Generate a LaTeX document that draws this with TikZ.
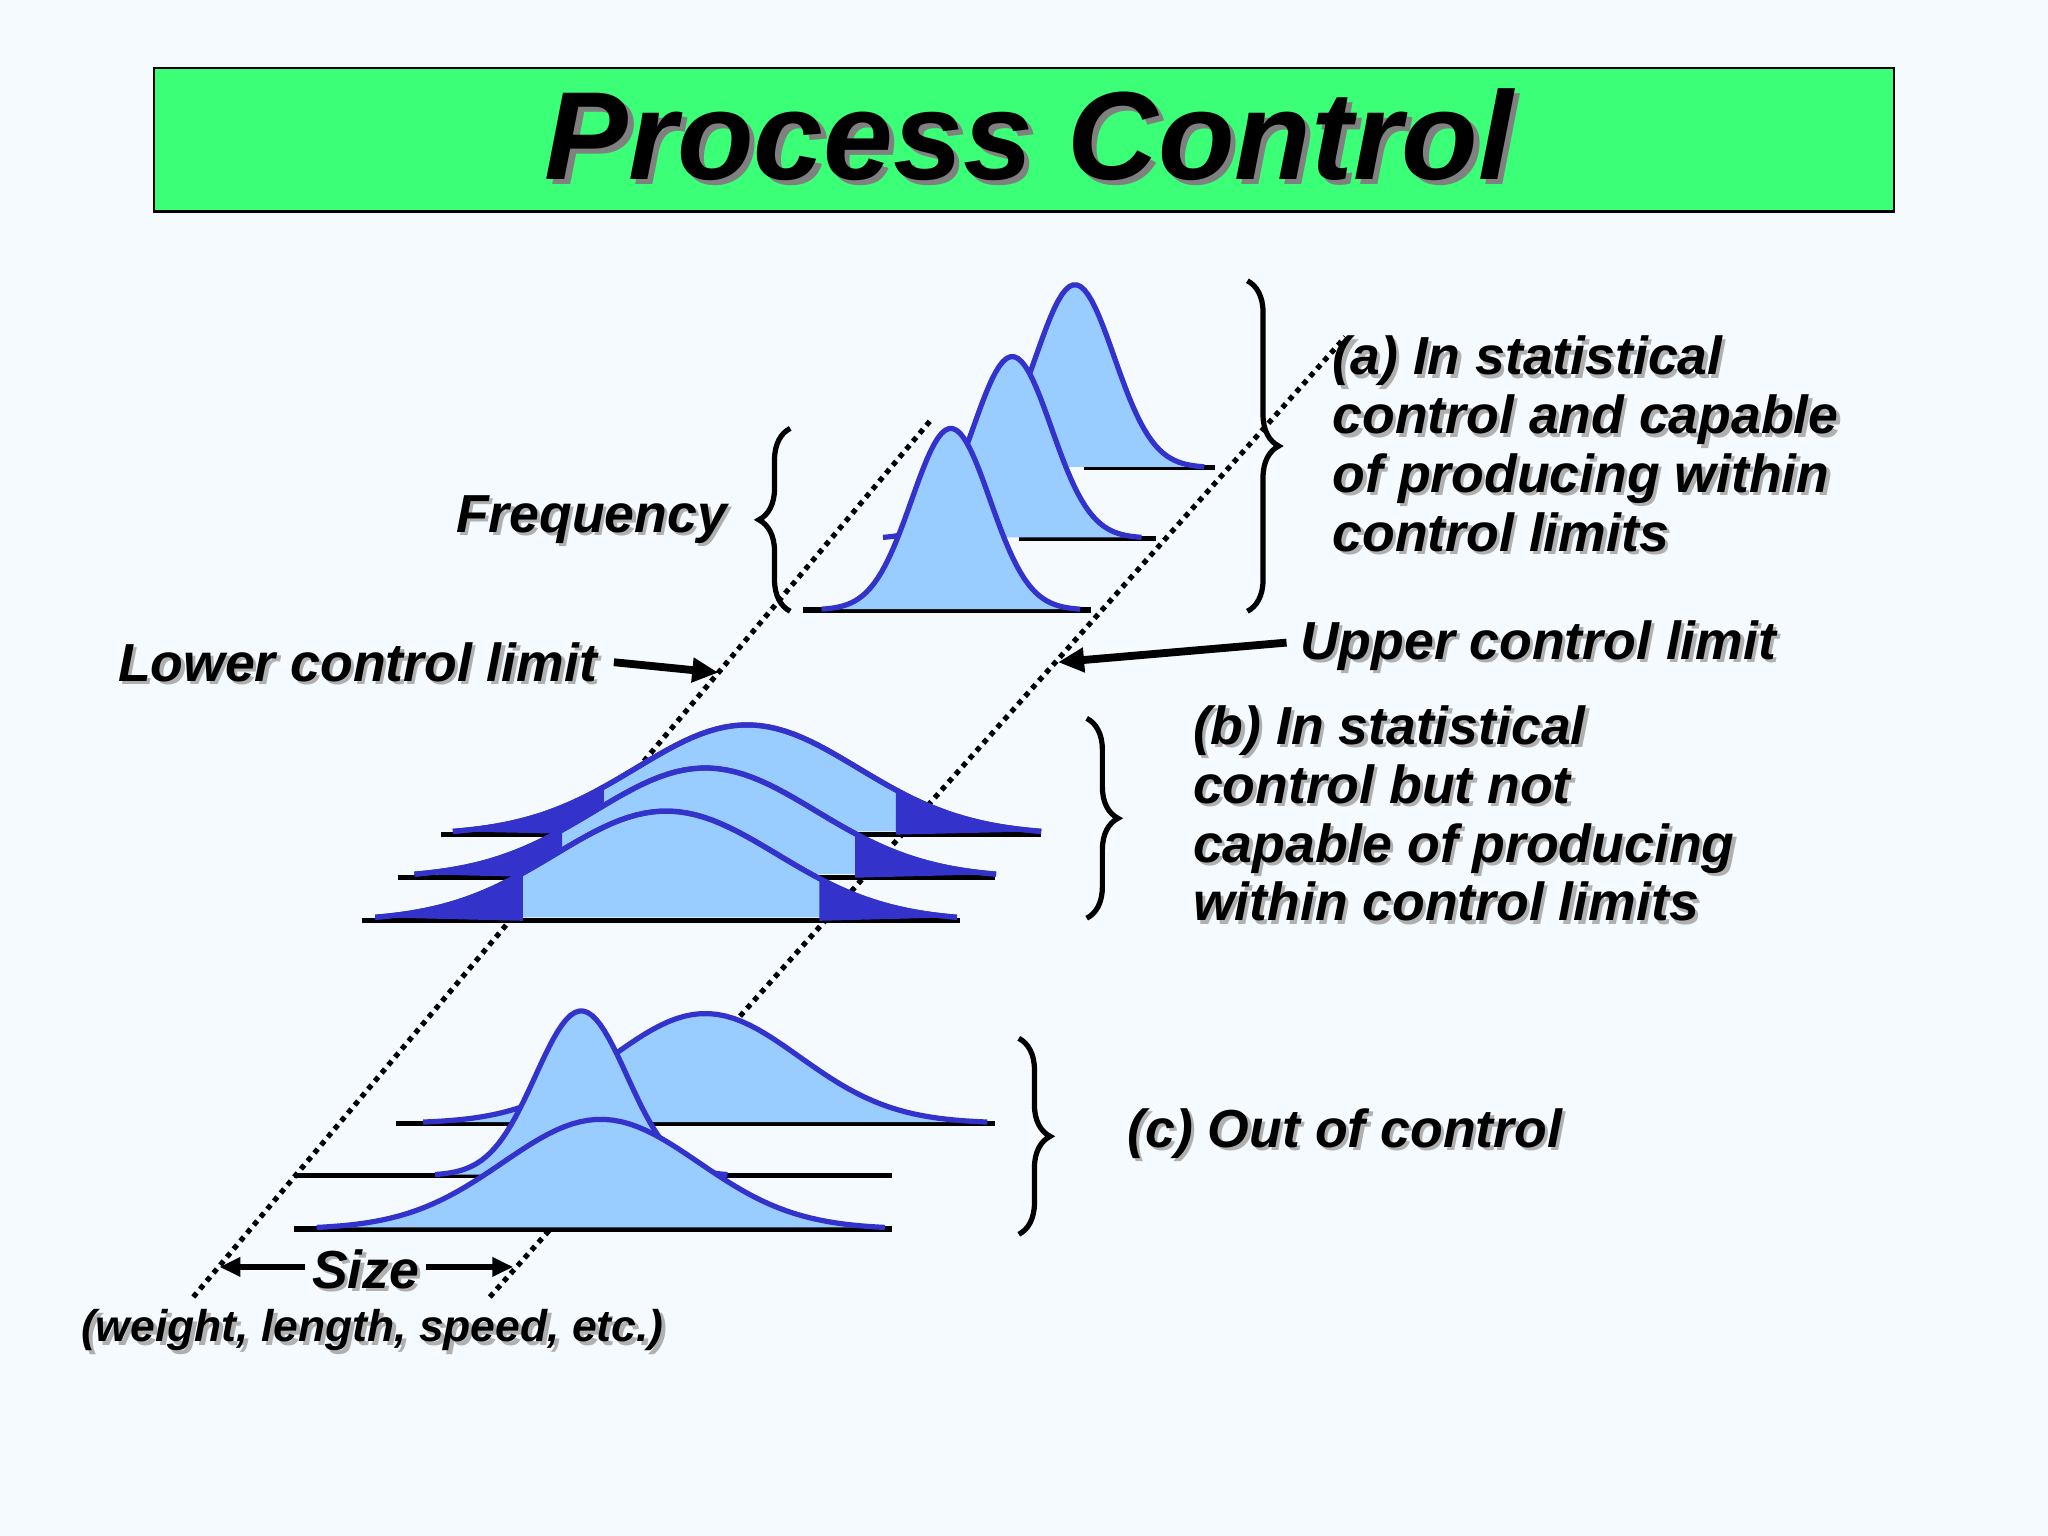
\documentclass[tikz,border=0pt]{standalone}
\usepackage{fontspec}
\setmainfont{Liberation Sans}
\usetikzlibrary{decorations.pathreplacing,arrows.meta,calc}
\definecolor{bg}{HTML}{F5FAFF}
\definecolor{ttl}{HTML}{3CFF78}
\definecolor{bfill}{HTML}{99CCFF}
\definecolor{bline}{HTML}{3333CC}
\definecolor{shd}{HTML}{B0B0B0}
\newcommand\bellcurve[5]{%
  \fill[bfill] plot[domain=-#5:#5,samples=70] ({#1+#2*\x},{#4-#3*exp(-\x*\x/2)}) -- cycle;
  \draw[bline,line width=2pt,line join=round] plot[domain=-#5:#5,samples=70] ({#1+#2*\x},{#4-#3*exp(-\x*\x/2)});}
\newcommand\tailfill[7]{%
  \fill[bline] plot[domain=#5:#6,samples=30] ({#1+#2*\x},{#4-#3*exp(-\x*\x/2)}) -- ({#1+#2*#7},#4) -- cycle;}
\newcommand\shtxt[4]{%
  \node[lbl,text=shd,anchor=#2] at ($(#3)+(2.5,2.5)$) {#4};
  \node[lbl,anchor=#2] (#1) at (#3) {#4};}
\tikzset{
  lbl/.style={font=\fontsize{20.5}{22.5}\selectfont\bfseries\itshape,inner sep=0,align=left},
  base/.style={line width=2pt,black},
  dots/.style={line width=2pt,dotted},
  brc/.style={decorate,decoration={brace,amplitude=12},line width=2pt},
  arr/.style={line width=3pt,-{Triangle[length=10pt,width=9pt]}},
  sarr/.style={line width=2pt,-{Triangle[length=8pt,width=7pt]}}
}
\begin{document}
\begin{tikzpicture}[x=0.5pt,y=-0.5pt]
\fill[bg] (0,0) rectangle (1568,1176);
\draw[fill=ttl,line width=1pt] (118,52) rectangle (1450,162);
\node[font=\fontsize{48}{52}\selectfont\bfseries\itshape,text=gray] at (792,107) {Process Control};
\node[font=\fontsize{48}{52}\selectfont\bfseries\itshape] (title) at (788,103) {Process Control};
\coordinate (L1) at (148,993); \coordinate (L2) at (714,320);
\coordinate (U1) at (375,993); \coordinate (U2) at (1030,258);
\draw[dots] (L1) -- (L2);
\draw[dots] (U1) -- (U2);
% group a
\draw[base] (830,358) -- (930,358); \bellcurve{823}{30}{140}{358}{3.3}
\draw[base] (780,412) -- (885,412); \bellcurve{775}{30}{139}{412}{3.3}
\draw[base] (615,467) -- (835,467); \bellcurve{728}{30}{139}{467}{3.3}
% group b
\draw[base] (338,639) -- (797,639); \bellcurve{572}{85}{84}{639}{2.65}
\tailfill{572}{85}{84}{639}{-2.65}{-1.29}{-1.29}\tailfill{572}{85}{84}{639}{1.34}{2.65}{1.34}
\draw[bline,line width=2pt] plot[domain=-2.65:2.65,samples=70] ({572+85*\x},{639-84*exp(-\x*\x/2)});
\draw[base] (305,672) -- (762,672); \bellcurve{540}{85}{84}{672}{2.62}
\tailfill{540}{85}{84}{672}{-2.62}{-1.29}{-1.29}\tailfill{540}{85}{84}{672}{1.35}{2.62}{1.35}
\draw[bline,line width=2pt] plot[domain=-2.62:2.62,samples=70] ({540+85*\x},{672-84*exp(-\x*\x/2)});
\draw[base] (277,705) -- (735,705); \bellcurve{510}{85}{84}{705}{2.62}
\tailfill{510}{85}{84}{705}{-2.62}{-1.29}{-1.29}\tailfill{510}{85}{84}{705}{1.38}{2.62}{1.38}
\draw[bline,line width=2pt] plot[domain=-2.62:2.62,samples=70] ({510+85*\x},{705-84*exp(-\x*\x/2)});
% group c
\draw[base] (303,860) -- (762,860); \bellcurve{540}{72}{84}{860}{3}
\draw[base] (225,900) -- (683,900); \bellcurve{445}{35}{126}{900}{3.2}
\draw[base] (225,941) -- (683,941); \bellcurve{460}{75}{84}{941}{2.9}
% braces
\draw[brc] (955,215) -- (955,468);
\draw[brc] (605,468) -- (605,328);
\draw[brc] (832,550) -- (832,703);
\draw[brc] (780,795) -- (780,945);
% labels
\shtxt{ta}{north west}{1020,257}{(a) In statistical\\control and capable\\of producing within\\control limits}
\shtxt{tb}{north west}{913,540}{(b) In statistical\\control but not\\capable of producing\\within control limits}
\shtxt{tc}{west}{863,868}{(c) Out of control}
\shtxt{fr}{east}{557,398}{Frequency}
\shtxt{lcl}{west}{90,507}{Lower control limit}
\shtxt{ucl}{west}{995,494}{Upper control limit}
\shtxt{sz}{center}{280,972}{Size}
\node[lbl,font=\fontsize{17}{18}\selectfont\bfseries\itshape,text=shd] at (288,1021) {(weight, length, speed, etc.)};
\node[lbl,font=\fontsize{17}{18}\selectfont\bfseries\itshape] (wl) at (285,1018) {(weight, length, speed, etc.)};
\coordinate (la) at (550,515); \coordinate (ua) at (810,507);
\coordinate (la0) at (470,507); \coordinate (ua0) at (985,492);
\draw[arr] (la0) -- (la);
\draw[arr] (ua0) -- (ua);
\coordinate (s1) at (168,970); \coordinate (s2) at (393,970);
\draw[sarr] (sz.west)++(-5,-2) -- (s1);
\draw[sarr] (sz.east)++(5,-2) -- (s2);
\end{tikzpicture}
\end{document}
